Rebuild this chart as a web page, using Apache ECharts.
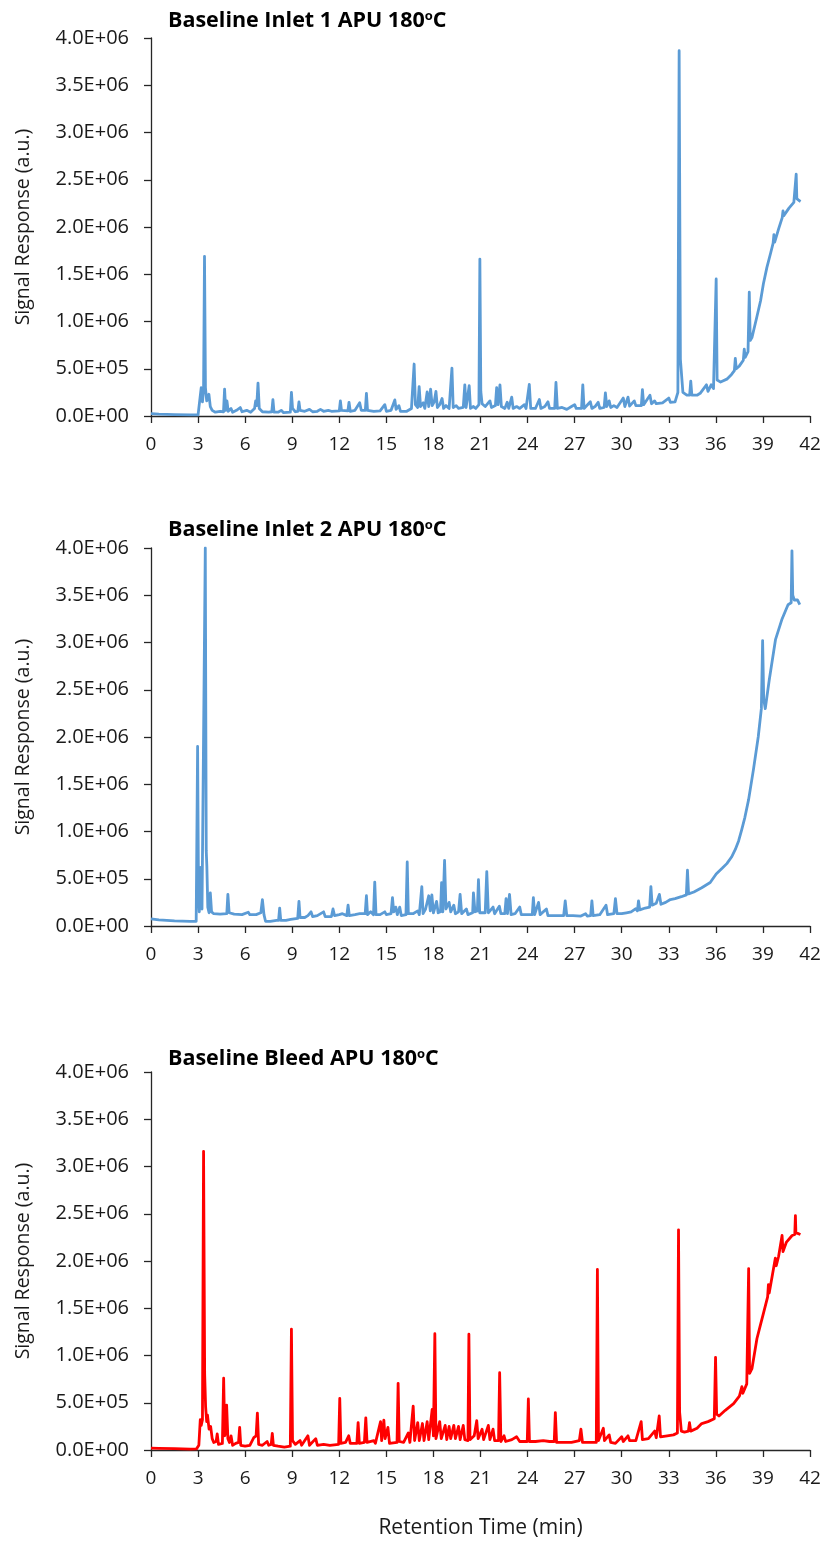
<!DOCTYPE html>
<html>
<head>
<meta charset="utf-8">
<script src="https://cdn.jsdelivr.net/npm/echarts@6/dist/echarts.min.js"></script>
<style>
html,body{margin:0;padding:0;background:#fff;}
#chart{width:824px;height:1547px;}
</style>
</head>
<body>
<div id="chart"></div>
<script>
// ---- Data (retention time in min, signal in a.u.) ----
const panelTitles = ['Baseline Inlet 1 APU 180', 'Baseline Inlet 2 APU 180', 'Baseline Bleed APU 180'];
const yTickLabels = ['0.0E+00','5.0E+05','1.0E+06','1.5E+06','2.0E+06','2.5E+06','3.0E+06','3.5E+06','4.0E+06'];
const xTickLabels = ['0','3','6','9','12','15','18','21','24','27','30','33','36','39','42'];

const inlet1 = [
[0,2.5e4],[0.5,2e4],[1.5,1.5e4],[2.5,1.2e4],[3.0,1.2e4],[3.1,3e4],[3.2,3.0e5],[3.28,1.5e5],[3.35,2.8e5],[3.41,1.69e6],[3.47,3.0e5],[3.55,1.6e5],[3.69,2.3e5],[3.78,1.0e5],[3.9,6e4],[4.1,4e4],[4.4,5e4],[4.62,4.5e4],[4.69,2.85e5],[4.76,6e4],[4.84,1.6e5],[4.92,5e4],[5.1,8e4],[5.2,4e4],[5.45,6e4],[5.69,9e4],[5.8,4.5e4],[6.1,6e4],[6.35,4e4],[6.6,8e4],[6.67,1.6e5],[6.74,1.1e5],[6.82,3.48e5],[6.9,8e4],[7.1,4.5e4],[7.5,4e4],[7.7,4.5e4],[7.77,1.72e5],[7.84,4e4],[8.1,4e4],[8.3,6e4],[8.45,3.5e4],[8.88,4e4],[8.95,2.5e5],[9.02,8e4],[9.2,4.5e4],[9.36,5e4],[9.43,1.5e5],[9.5,6e4],[9.8,5e4],[10.1,7e4],[10.3,4.5e4],[10.6,5e4],[10.8,7e4],[11.0,5e4],[11.3,6e4],[11.5,5e4],[12.0,5.5e4],[12.07,1.6e5],[12.14,6e4],[12.55,5.5e4],[12.62,1.45e5],[12.7,5e4],[13.0,6e4],[13.3,1.4e5],[13.4,6e4],[13.66,6e4],[13.73,2.4e5],[13.8,6e4],[14.2,5e4],[14.6,5.5e4],[14.9,1.2e5],[15.0,5e4],[15.3,6e4],[15.54,1.7e5],[15.62,7e4],[15.8,1.1e5],[15.9,5e4],[16.3,5e4],[16.6,8e4],[16.77,5.5e5],[16.85,1.2e5],[17.0,9e4],[17.09,3.1e5],[17.18,1.0e5],[17.35,1.4e5],[17.45,8e4],[17.6,2.55e5],[17.7,1.0e5],[17.82,2.85e5],[17.92,1.1e5],[18.05,1.5e5],[18.16,2.6e5],[18.25,9e4],[18.4,1.2e5],[18.55,1.85e5],[18.65,8e4],[18.8,1.1e5],[19.0,8e4],[19.18,5.07e5],[19.26,9e4],[19.45,1.1e5],[19.6,8e4],[19.9,9e4],[20.0,3.3e5],[20.08,9e4],[20.2,9e4],[20.28,3.2e5],[20.36,8e4],[20.55,1.0e5],[20.7,8e4],[20.9,1.2e5],[20.96,1.66e6],[21.02,2.6e5],[21.1,1.3e5],[21.3,1.0e5],[21.6,1.6e5],[21.7,9e4],[21.95,1.1e5],[22.03,3.0e5],[22.12,1.2e5],[22.24,3.3e5],[22.33,1.0e5],[22.55,8e4],[22.7,1.45e5],[22.8,8e4],[22.99,2.0e5],[23.08,8e4],[23.3,1.0e5],[23.5,8e4],[23.8,1.2e5],[23.9,8e4],[24.11,3.35e5],[24.2,8e4],[24.5,8e4],[24.75,1.75e5],[24.85,8e4],[25.1,1.0e5],[25.3,1.5e5],[25.4,8e4],[25.73,8e4],[25.81,3.55e5],[25.9,8e4],[26.2,9e4],[26.5,7e4],[26.8,1.0e5],[27.0,1.2e5],[27.1,8e4],[27.44,8e4],[27.52,3.3e5],[27.6,8e4],[28.0,1.5e5],[28.1,8e4],[28.3,1.0e5],[28.5,1.45e5],[28.6,8e4],[28.88,9e4],[28.96,2.45e5],[29.05,1.0e5],[29.2,1.6e5],[29.3,9e4],[29.5,1.1e5],[29.7,9e4],[30.1,1.9e5],[30.2,1.0e5],[30.4,2.0e5],[30.5,1.05e5],[30.8,1.6e5],[30.9,1.1e5],[31.25,1.1e5],[31.32,2.8e5],[31.4,1.2e5],[31.8,2.2e5],[31.9,1.3e5],[32.1,1.6e5],[32.2,1.3e5],[32.6,1.4e5],[33.0,1.9e5],[33.1,1.45e5],[33.4,1.5e5],[33.58,2.5e5],[33.66,3.866e6],[33.74,6e5],[33.9,2.5e5],[34.15,2.2e5],[34.33,2.2e5],[34.4,3.7e5],[34.47,2.2e5],[34.8,2.2e5],[35.0,2.4e5],[35.4,3.3e5],[35.5,2.6e5],[35.7,3.3e5],[35.85,2.9e5],[35.96,3.0e5],[36.02,1.45e6],[36.08,3.8e5],[36.3,3.6e5],[36.7,3.9e5],[37.0,4.4e5],[37.18,4.8e5],[37.24,6.1e5],[37.3,5.0e5],[37.5,5.3e5],[37.75,5.9e5],[37.81,7.07e5],[37.87,6.2e5],[38.05,6.8e5],[38.13,1.31e6],[38.19,8.0e5],[38.3,8.3e5],[38.6,1.04e6],[38.85,1.22e6],[39.03,1.4e6],[39.25,1.57e6],[39.5,1.73e6],[39.65,1.83e6],[39.7,1.92e6],[39.75,1.84e6],[40.0,1.98e6],[40.23,2.1e6],[40.28,2.17e6],[40.33,2.12e6],[40.66,2.2e6],[40.97,2.26e6],[41.08,2.28e6],[41.12,2.56e6],[41.16,2.3e6],[41.3,2.28e6],[41.4,2.27e6]
];

const inlet2 = [
[0,7.5e4],[0.5,6.5e4],[1.5,5.5e4],[2.5,5e4],[2.88,5e4],[2.97,1.9e6],[3.03,3.0e5],[3.08,1.5e5],[3.18,6.2e5],[3.25,1.8e5],[3.35,2.0e5],[3.46,4.0e6],[3.52,8e5],[3.56,6.3e5],[3.62,2.0e5],[3.7,1.4e5],[3.78,3.5e5],[3.86,1.5e5],[4.0,1.3e5],[4.4,1.25e5],[4.83,1.3e5],[4.9,3.35e5],[4.98,1.4e5],[5.3,1.25e5],[5.8,1.2e5],[6.2,1.45e5],[6.3,1.2e5],[6.7,1.2e5],[7.0,1.4e5],[7.1,2.8e5],[7.2,1.2e5],[7.3,5e4],[7.6,5e4],[8.0,6e4],[8.13,6e4],[8.2,1.9e5],[8.27,6e4],[8.6,6e4],[8.9,7e4],[9.35,8e4],[9.43,2.6e5],[9.5,9e4],[9.8,9e4],[10.0,1.1e5],[10.2,1.5e5],[10.3,1.0e5],[10.6,1.1e5],[11.0,1.5e5],[11.1,1.0e5],[11.5,1.0e5],[11.6,1.8e5],[11.7,1.1e5],[12.0,1.2e5],[12.2,1.3e5],[12.48,1.1e5],[12.56,2.2e5],[12.64,1.1e5],[13.0,1.2e5],[13.3,1.3e5],[13.65,1.3e5],[13.73,3.2e5],[13.8,1.2e5],[14.0,1.5e5],[14.18,1.2e5],[14.26,4.65e5],[14.34,1.2e5],[14.6,1.2e5],[14.9,1.5e5],[15.0,1.2e5],[15.3,1.3e5],[15.39,3.0e5],[15.47,1.5e5],[15.6,2.0e5],[15.7,1.2e5],[15.85,2.0e5],[15.95,1.1e5],[16.25,1.2e5],[16.33,6.77e5],[16.4,1.3e5],[16.7,1.3e5],[17.0,1.6e5],[17.1,1.2e5],[17.26,4.16e5],[17.34,1.3e5],[17.5,1.8e5],[17.7,3.2e5],[17.8,1.6e5],[17.9,3.3e5],[18.0,1.4e5],[18.2,2.6e5],[18.3,1.4e5],[18.45,1.5e5],[18.52,4.6e5],[18.6,1.5e5],[18.71,6.95e5],[18.8,1.8e5],[19.0,2.5e5],[19.1,1.5e5],[19.3,2.2e5],[19.4,1.3e5],[19.6,1.5e5],[19.7,3.35e5],[19.8,1.3e5],[20.1,1.8e5],[20.2,1.2e5],[20.5,1.4e5],[20.55,3.5e5],[20.65,1.5e5],[20.8,1.6e5],[20.87,4.9e5],[20.95,1.4e5],[21.3,1.4e5],[21.4,5.75e5],[21.5,1.4e5],[21.8,2.0e5],[21.9,1.3e5],[22.2,2.1e5],[22.3,1.3e5],[22.55,1.3e5],[22.63,2.9e5],[22.72,1.3e5],[22.85,3.35e5],[22.95,1.2e5],[23.2,1.3e5],[23.5,2.0e5],[23.6,1.2e5],[24.0,1.2e5],[24.3,1.2e5],[24.37,3.0e5],[24.45,1.2e5],[24.7,2.5e5],[24.8,1.2e5],[25.2,1.8e5],[25.3,1.1e5],[25.8,1.1e5],[26.3,1.1e5],[26.4,2.65e5],[26.5,1.1e5],[26.9,1.1e5],[27.4,1.05e5],[27.7,1.3e5],[27.8,1.05e5],[28.02,1.1e5],[28.1,2.65e5],[28.18,1.1e5],[28.6,1.2e5],[29.0,2.2e5],[29.1,1.2e5],[29.5,1.3e5],[29.6,2.9e5],[29.7,1.3e5],[30.0,1.3e5],[30.3,1.4e5],[30.6,1.5e5],[30.9,1.84e5],[31.0,1.6e5],[31.07,2.65e5],[31.15,1.7e5],[31.5,1.9e5],[31.78,2.0e5],[31.86,4.16e5],[31.94,2.2e5],[32.2,2.4e5],[32.4,3.35e5],[32.5,2.3e5],[32.8,2.5e5],[33.1,2.8e5],[33.4,2.9e5],[33.8,3.1e5],[34.12,3.3e5],[34.19,5.9e5],[34.26,3.4e5],[34.6,3.6e5],[35.1,4.05e5],[35.64,4.6e5],[36.02,5.5e5],[36.4,6.1e5],[36.7,6.6e5],[37.0,7.3e5],[37.24,8.1e5],[37.45,9.0e5],[37.65,1.02e6],[37.85,1.15e6],[38.09,1.34e6],[38.4,1.66e6],[38.7,2.0e6],[38.9,2.3e6],[38.98,3.02e6],[39.05,2.4e6],[39.15,2.3e6],[39.4,2.6e6],[39.8,3.03e6],[40.2,3.24e6],[40.6,3.4e6],[40.8,3.42e6],[40.85,3.97e6],[40.9,3.5e6],[41.0,3.45e6],[41.2,3.45e6],[41.35,3.4e6]
];

const bleed = [
[0,2.0e4],[0.5,1.8e4],[1.5,1.5e4],[2.5,1.0e4],[2.9,1.2e4],[3.05,5e4],[3.14,3.2e5],[3.2,2.6e5],[3.28,3.2e5],[3.35,3.16e6],[3.42,8e5],[3.48,4.6e5],[3.55,3.0e5],[3.6,3.7e5],[3.7,2.2e5],[3.8,2.5e5],[3.9,1.2e5],[4.0,8e4],[4.15,9e4],[4.22,1.7e5],[4.3,6e4],[4.55,7e4],[4.63,7.6e5],[4.7,1.5e5],[4.76,2e5],[4.82,4.75e5],[4.9,1.2e5],[5.0,8e4],[5.1,1.5e5],[5.2,5e4],[5.4,7e4],[5.58,8e4],[5.65,2.4e5],[5.72,5e4],[6.0,4e4],[6.3,5e4],[6.55,1.3e5],[6.7,1.5e5],[6.78,3.9e5],[6.86,6e4],[7.1,5e4],[7.4,9e4],[7.5,5e4],[7.66,6e4],[7.73,1.76e5],[7.8,5e4],[8.1,4e4],[8.5,3e4],[8.88,4e4],[8.95,1.28e6],[9.02,1.0e5],[9.2,6e4],[9.5,1.0e5],[9.6,5e4],[10.0,1.5e5],[10.1,5e4],[10.5,1.2e5],[10.6,5e4],[11.0,6e4],[11.4,5e4],[11.96,6e4],[12.03,5.45e5],[12.1,7e4],[12.4,8e4],[12.6,1.5e5],[12.7,7e4],[13.12,7e4],[13.2,2.9e5],[13.28,7e4],[13.6,8e4],[13.69,3.4e5],[13.77,8e4],[14.2,1.0e5],[14.3,7e4],[14.63,3.0e5],[14.7,1.0e5],[14.84,3.17e5],[14.92,1.2e5],[15.1,2.4e5],[15.2,7e4],[15.68,8e4],[15.75,7.05e5],[15.82,9e4],[16.1,8e4],[16.4,1.8e5],[16.5,8e4],[16.71,4.65e5],[16.8,1.0e5],[17.0,2.9e5],[17.1,1.0e5],[17.3,2.8e5],[17.4,1.0e5],[17.6,3.0e5],[17.7,1.1e5],[17.92,4.3e5],[18.0,1.5e5],[18.09,1.23e6],[18.16,1.2e5],[18.4,3.0e5],[18.5,1.2e5],[18.75,2.6e5],[18.85,1.1e5],[19.0,2.5e5],[19.1,1.2e5],[19.3,2.6e5],[19.4,1.2e5],[19.6,2.5e5],[19.7,1.1e5],[19.9,2.6e5],[20.0,1.1e5],[20.2,1.0e5],[20.26,1.226e6],[20.33,1.1e5],[20.6,1.5e5],[20.76,3.1e5],[20.85,1.2e5],[21.1,2.2e5],[21.2,1.1e5],[21.5,2.6e5],[21.6,1.1e5],[21.8,2.2e5],[21.9,1.0e5],[22.15,1.0e5],[22.22,8.18e5],[22.3,9e4],[22.5,1.5e5],[22.6,9e4],[23.0,1.1e5],[23.3,1.4e5],[23.5,9e4],[23.98,9e4],[24.05,5.4e5],[24.12,9e4],[24.5,9e4],[25.0,1.0e5],[25.4,9e4],[25.7,9e4],[25.77,3.95e5],[25.85,8e4],[26.3,8e4],[26.8,8e4],[27.3,1.0e5],[27.4,2.2e5],[27.5,8e4],[28.0,8e4],[28.38,8e4],[28.45,1.91e6],[28.52,1.0e5],[28.83,2.3e5],[28.9,1.0e5],[29.2,1.6e5],[29.3,8e4],[29.6,7e4],[30.0,1.4e5],[30.1,9e4],[30.4,1.5e5],[30.5,1.0e5],[30.9,1.0e5],[31.24,3.0e5],[31.32,1.1e5],[31.7,1.2e5],[32.1,2.0e5],[32.2,1.3e5],[32.39,3.6e5],[32.47,1.4e5],[32.9,1.5e5],[33.3,1.6e5],[33.55,1.8e5],[33.62,2.33e6],[33.69,4e5],[33.8,2.0e5],[34.0,1.9e5],[34.25,2.0e5],[34.32,2.9e5],[34.4,2.0e5],[34.8,2.3e5],[35.1,2.8e5],[35.5,3.0e5],[35.9,3.3e5],[35.98,9.8e5],[36.05,3.8e5],[36.2,3.6e5],[36.6,4.2e5],[37.13,4.9e5],[37.5,5.7e5],[37.66,6.7e5],[37.72,6.0e5],[37.97,7.0e5],[38.09,1.92e6],[38.15,8.1e5],[38.3,8.6e5],[38.62,1.18e6],[38.85,1.33e6],[39.04,1.45e6],[39.3,1.62e6],[39.35,1.75e6],[39.4,1.66e6],[39.6,1.85e6],[39.79,2.03e6],[39.85,1.95e6],[40.0,2.05e6],[40.22,2.27e6],[40.28,2.1e6],[40.5,2.2e6],[40.86,2.27e6],[41.03,2.28e6],[41.07,2.48e6],[41.1,2.3e6],[41.39,2.28e6]
];

const seriesList = [inlet1, inlet2, bleed];
const seriesColors = ['#5B9BD5', '#5B9BD5', '#FF0000'];

// ---- Layout ----
const FONT = '"Open Sans", "Noto Sans", sans-serif';
const gridTops = [38, 548, 1072];
const titleTops = [5, 514, 1043];
const gridH = 378;

const chart = echarts.init(document.getElementById('chart'), null, {renderer: 'canvas'});

const grids = [], xAxes = [], yAxes = [], series = [], titles = [];
for (let i = 0; i < 3; i++) {
  grids.push({left: 151, top: gridTops[i], width: 659, height: gridH, containLabel: false});
  xAxes.push({
    type: 'value', gridIndex: i, min: 0, max: 42, interval: 3,
    axisLine: {show: true, lineStyle: {color: '#262626', width: 1.3}},
    axisTick: {show: true, inside: false, length: 7, lineStyle: {color: '#262626', width: 1.3}},
    axisLabel: {margin: 19, fontFamily: FONT, fontSize: 19, color: '#1a1a1a',
      formatter: v => xTickLabels[Math.round(v / 3)]},
    splitLine: {show: false},
    name: i === 2 ? 'Retention Time (min)' : '',
    nameLocation: 'middle', nameGap: 68,
    nameTextStyle: {fontFamily: FONT, fontSize: 21, color: '#1a1a1a'}
  });
  yAxes.push({
    type: 'value', gridIndex: i, min: 0, max: 4e6, interval: 5e5,
    axisLine: {show: true, onZero: false, lineStyle: {color: '#262626', width: 1.3}},
    axisTick: {show: true, inside: false, length: 7, lineStyle: {color: '#262626', width: 1.3}},
    axisLabel: {margin: 22, fontFamily: FONT, fontSize: 20, color: '#1a1a1a',
      formatter: v => yTickLabels[Math.round(v / 5e5)]},
    splitLine: {show: false},
    name: 'Signal Response (a.u.)', nameLocation: 'middle', nameGap: 118, nameRotate: 90,
    nameTextStyle: {fontFamily: FONT, fontSize: 19.5, color: '#1a1a1a'}
  });
  series.push({
    type: 'line', xAxisIndex: i, yAxisIndex: i, data: seriesList[i],
    showSymbol: false, symbol: 'none', smooth: false, animation: false,
    lineStyle: {color: seriesColors[i], width: 2.8, join: 'round'},
    itemStyle: {color: seriesColors[i]}
  });
  titles.push({
    text: '{b|' + panelTitles[i] + '}{s|o}{b|C}',
    left: 163, top: titleTops[i],
    textStyle: {
      rich: {
        b: {fontFamily: FONT, fontWeight: 'bold', fontSize: 21.5, color: '#000', verticalAlign: 'bottom'},
        s: {fontFamily: FONT, fontWeight: 'bold', fontSize: 13, color: '#000', verticalAlign: 'top', padding: [0,0,9,0]}
      }
    }
  });
}

chart.setOption({
  backgroundColor: '#ffffff',
  animation: false,
  title: titles,
  grid: grids,
  xAxis: xAxes,
  yAxis: yAxes,
  series: series
});
</script>
</body>
</html>
